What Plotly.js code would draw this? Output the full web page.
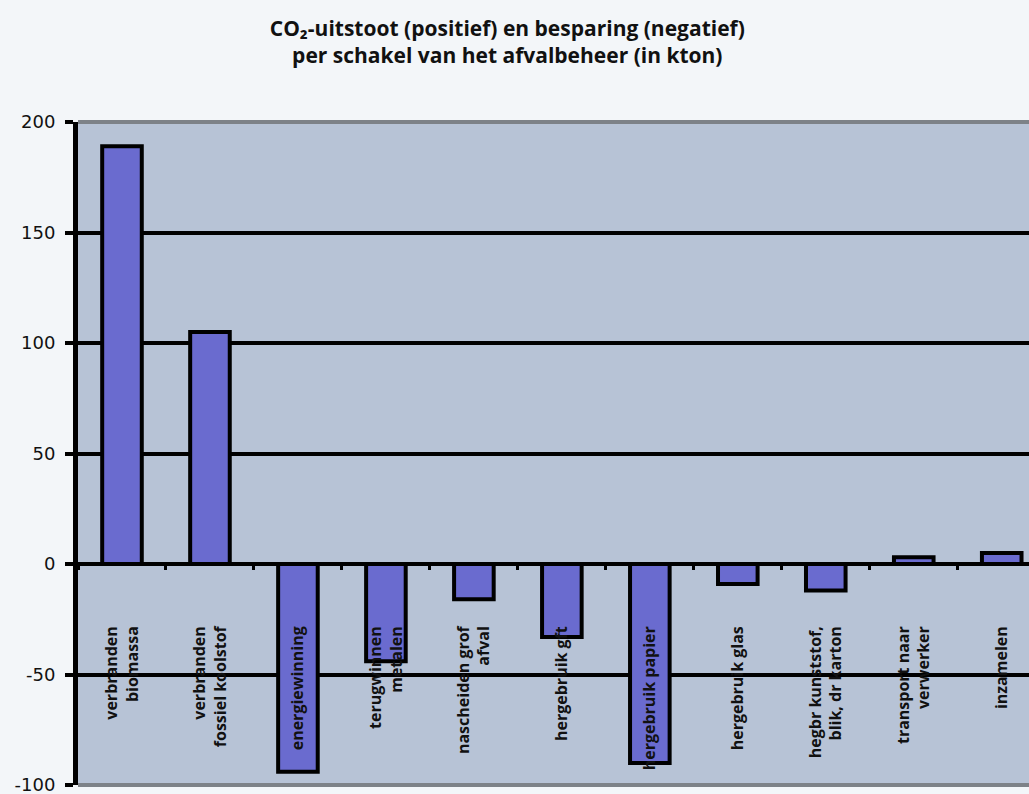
<!DOCTYPE html>
<html>
<head>
<meta charset="utf-8">
<script src="https://cdn.plot.ly/plotly-3.0.1.min.js"></script>
<style>
  html, body { margin: 0; padding: 0; background: #f3f6f9; }
  #chart { width: 1029px; height: 794px; }
</style>
</head>
<body>
<div id="chart"></div>
<script>
// Data (kton CO2)
const categories = [
  "verbranden<br>biomassa",
  "verbranden<br>fossiel koolstof",
  "energiewinning",
  "terugwinnen<br>metalen",
  "nascheiden grof<br>afval",
  "hergebruik gft",
  "hergebruik papier",
  "hergebruik glas",
  "hegbr kunststof,<br>blik, dr karton",
  "transport naar<br>verwerker",
  "inzamelen"
];
const values = [189, 105, -94, -44, -16, -33, -90, -9, -12, 3, 5];
const yTicks = [-100, -50, 0, 50, 100, 150, 200];

const trace = {
  type: 'bar',
  x: categories,
  y: values,
  width: 0.45,
  marker: { color: '#6a6bcf', line: { color: '#000000', width: 4 } },
  hoverinfo: 'x+y'
};

const layout = {
  width: 1029,
  height: 794,
  paper_bgcolor: '#f3f6f9',
  plot_bgcolor: '#b7c3d6',
  margin: { l: 78, r: 0, t: 122, b: 9 },
  showlegend: false,
  title: {
    text: 'CO₂-uitstoot (positief) en besparing (negatief)<br>per schakel van het afvalbeheer (in kton)',
    font: { family: '"Open Sans", sans-serif', size: 21, color: '#111111', weight: 700 },
    x: 0.493, xanchor: 'center',
    y: 1 - 36 / 794, yanchor: 'middle', yref: 'container'
  },
  xaxis: {
    type: 'category',
    range: [-0.5, 10.31],
    anchor: 'free',
    position: 100 / 300,
    showgrid: false,
    zeroline: false,
    showline: false,
    ticks: 'outside',
    tickson: 'boundaries',
    ticklen: 5,
    tickwidth: 3,
    tickcolor: '#000000',
    tickangle: -90,
    ticklabelstandoff: 58,
    tickfont: { family: '"Open Sans", sans-serif', size: 16, color: '#111111', weight: 700 },
    fixedrange: true
  },
  yaxis: {
    range: [-100, 200],
    tickvals: yTicks,
    ticktext: yTicks.map(String),
    ticklabeloverflow: 'allow',
    showgrid: true,
    gridcolor: '#000000',
    gridwidth: 4,
    zeroline: true,
    zerolinecolor: '#000000',
    zerolinewidth: 4,
    showline: true,
    linecolor: '#000000',
    linewidth: 5,
    ticks: 'outside',
    ticklen: 8,
    tickwidth: 4,
    tickcolor: '#000000',
    ticklabelstandoff: 6,
    tickfont: { family: '"DejaVu Sans", sans-serif', size: 18, color: '#111111' },
    fixedrange: true
  },
  shapes: [
    { type: 'line', xref: 'paper', yref: 'paper', x0: 0, x1: 1, y0: 1, y1: 1,
      line: { color: '#7d8288', width: 4 }, layer: 'above' },
    { type: 'line', xref: 'paper', yref: 'paper', x0: 0, x1: 1, y0: 0, y1: 0,
      line: { color: '#7d8288', width: 4 }, layer: 'above' }
  ]
};

Plotly.newPlot('chart', [trace], layout, { displayModeBar: false, staticPlot: true });
</script>
</body>
</html>
